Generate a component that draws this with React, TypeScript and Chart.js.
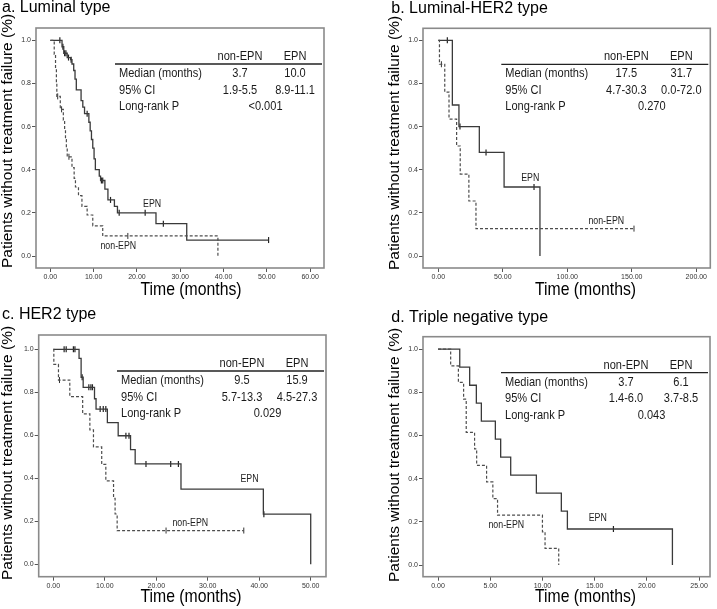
import React, { useEffect, useRef } from 'react';
import { Chart, registerables } from 'chart.js';

Chart.register(...registerables);

const FONT = "'Liberation Sans', Arial, Helvetica, sans-serif";

// ---------- shared ----------
const yTicks = [0, 0.2, 0.4, 0.6, 0.8, 1.0];
const yTickLabels = ['0.0', '0.2', '0.4', '0.6', '0.8', '1.0'];
const groupNames = ['non-EPN', 'EPN'];
const rowNames = ['Median (months)', '95% CI', 'Long-rank P'];
const yAxisTitle = 'Patients without treatment failure (%)';
const xAxisTitle = 'Time (months)';

// ---------- panel a: Luminal ----------
const aNonTimes = [0, 0.9, 1.2, 1.4, 1.5, 2.3, 3.0, 3.3, 3.5, 3.7, 3.9, 5.0, 5.5, 5.8, 6.5, 7.3, 8.5, 9.8, 12.1, 38.7];
const aNonSurv = [1.0, 0.935, 0.87, 0.8, 0.74, 0.68, 0.63, 0.585, 0.54, 0.5, 0.46, 0.41, 0.36, 0.32, 0.28, 0.23, 0.19, 0.14, 0.093, 0.0];
const aNonCensor = [1.7, 2.6, 4.3, 17.9];
const aEpnTimes = [0, 2.7, 3.1, 3.9, 4.7, 5.0, 5.4, 5.7, 6.0, 7.1, 7.5, 7.9, 8.9, 9.2, 9.5, 9.8, 10.1, 10.4, 11.3, 11.6, 12.6, 13.3, 14.8, 15.5, 24.4, 31.5, 50.4];
const aEpnSurv = [1.0, 0.97, 0.94, 0.92, 0.91, 0.89, 0.86, 0.82, 0.77, 0.72, 0.69, 0.66, 0.62, 0.58, 0.54, 0.5, 0.45, 0.4, 0.37, 0.35, 0.31, 0.26, 0.23, 0.2, 0.15, 0.074, 0.074];
const aEpnCensor = [2.2, 2.9, 3.3, 3.6, 4.2, 4.8, 8.5, 11.8, 12.1, 13.9, 15.9, 21.9, 26.1, 50.4];
const aXTicks = [0, 10, 20, 30, 40, 50, 60];
const aXTickLabels = ['0.00', '10.00', '20.00', '30.00', '40.00', '50.00', '60.00'];
const aMedian = ['3.7', '10.0'];
const aCI = ['1.9-5.5', '8.9-11.1'];
const aP = '<0.001';

// ---------- panel b: Luminal-HER2 ----------
const bNonTimes = [0, 0.9, 5.0, 8.3, 14.2, 17.0, 23.7, 29.2, 151.7];
const bNonSurv = [1.0, 0.889, 0.76, 0.635, 0.51, 0.38, 0.255, 0.127, 0.127];
const bNonCensor = [2.4, 151.7];
const bEpnTimes = [0, 10.9, 16.0, 31.8, 51.0, 78.8];
const bEpnSurv = [1.0, 0.7, 0.6, 0.48, 0.32, 0.0];
const bEpnCensor = [7.0, 16.8, 37.0, 74.2];
const bXTicks = [0, 50, 100, 150, 200];
const bXTickLabels = ['0.00', '50.00', '100.00', '150.00', '200.00'];
const bMedian = ['17.5', '31.7'];
const bCI = ['4.7-30.3', '0.0-72.0'];
const bP = '0.270';

// ---------- panel c: HER2 ----------
const cNonTimes = [0, 0.1, 1.0, 3.2, 5.7, 7.1, 7.8, 9.4, 10.2, 11.7, 12.0, 12.4, 37.0];
const cNonSurv = [1.0, 0.93, 0.857, 0.78, 0.7, 0.625, 0.546, 0.465, 0.388, 0.307, 0.234, 0.157, 0.157];
const cNonCensor = [1.2, 21.9, 37.0];
const cEpnTimes = [0, 5.0, 5.4, 5.8, 8.0, 8.3, 10.5, 12.6, 15.0, 15.9, 24.8, 40.8, 50.0];
const cEpnSurv = [1.0, 0.958, 0.87, 0.823, 0.77, 0.722, 0.659, 0.598, 0.533, 0.467, 0.35, 0.233, 0.0];
const cEpnCensor = [2.1, 2.5, 3.9, 4.2, 5.6, 6.9, 7.3, 7.6, 9.1, 9.7, 10.2, 14.1, 14.7, 18.0, 22.8, 24.3, 40.9];
const cXTicks = [0, 10, 20, 30, 40, 50];
const cXTickLabels = ['0.00', '10.00', '20.00', '30.00', '40.00', '50.00'];
const cMedian = ['9.5', '15.9'];
const cCI = ['5.7-13.3', '4.5-27.3'];
const cP = '0.029';

// ---------- panel d: Triple negative ----------
const dNonTimes = [0, 1.21, 1.95, 2.45, 2.7, 3.5, 3.7, 4.65, 5.25, 5.7, 10.0, 10.25, 11.56];
const dNonSurv = [1.0, 0.923, 0.846, 0.769, 0.615, 0.538, 0.462, 0.385, 0.308, 0.231, 0.154, 0.077, 0.0];
const dNonCensor: number[] = [];
const dEpnTimes = [0, 2.08, 3.03, 3.67, 4.15, 5.49, 6.0, 6.96, 9.42, 11.81, 12.39, 22.45];
const dEpnSurv = [1.0, 0.917, 0.833, 0.75, 0.667, 0.583, 0.5, 0.417, 0.333, 0.25, 0.167, 0.0];
const dEpnCensor = [16.8];
const dXTicks = [0, 5, 10, 15, 20, 25];
const dXTickLabels = ['0.00', '5.00', '10.00', '15.00', '20.00', '25.00'];
const dMedian = ['3.7', '6.1'];
const dCI = ['1.4-6.0', '3.7-8.5'];
const dP = '0.043';

type Geom = {
  left: number; top: number; w: number; h: number;
  boxL: number; boxR: number; boxT: number; boxB: number;
  titleX: number; titleY: number;
  yTitleX: number; yTitleY: number;
  xTitleX: number; xTitleY: number;
};

type PanelDef = {
  title: string;
  nonTimes: number[]; nonSurv: number[]; nonCensor: number[];
  epnTimes: number[]; epnSurv: number[]; epnCensor: number[];
  xTicks: number[]; xTickLabels: string[];
  xMin: number; xMax: number; yMin: number; yMax: number;
  median: string[]; ci: string[]; p: string;
  epnLabelAt: [number, number]; nonLabelAt: [number, number];
  g: Geom;
};

const panels: PanelDef[] = [
  {
    title: 'a. Luminal type',
    nonTimes: aNonTimes, nonSurv: aNonSurv, nonCensor: aNonCensor,
    epnTimes: aEpnTimes, epnSurv: aEpnSurv, epnCensor: aEpnCensor,
    xTicks: aXTicks, xTickLabels: aXTickLabels,
    xMin: -3.31, xMax: 63.2, yMin: -0.0556, yMax: 1.057,
    median: aMedian, ci: aCI, p: aP,
    epnLabelAt: [23.5, 0.24], nonLabelAt: [15.7, 0.043],
    g: { left: 0, top: 0, w: 358, h: 302, boxL: 36, boxR: 324, boxT: 28, boxB: 268,
      titleX: 2, titleY: 8, yTitleX: 7.7, yTitleY: 141, xTitleX: 191, xTitleY: 290 },
  },
  {
    title: 'b. Luminal-HER2 type',
    nonTimes: bNonTimes, nonSurv: bNonSurv, nonCensor: bNonCensor,
    epnTimes: bEpnTimes, epnSurv: bEpnSurv, epnCensor: bEpnCensor,
    xTicks: bXTicks, xTickLabels: bXTickLabels,
    xMin: -11.86, xMax: 210.85, yMin: -0.0556, yMax: 1.0556,
    median: bMedian, ci: bCI, p: bP,
    epnLabelAt: [71.3, 0.36], nonLabelAt: [130.2, 0.159],
    g: { left: 386, top: 0, w: 331, h: 302, boxL: 423, boxR: 710.3, boxT: 28.3, boxB: 268,
      titleX: 391.3, titleY: 9, yTitleX: 395, yTitleY: 143, xTitleX: 585.5, xTitleY: 290 },
  },
  {
    title: 'c. HER2 type',
    nonTimes: cNonTimes, nonSurv: cNonSurv, nonCensor: cNonCensor,
    epnTimes: cEpnTimes, epnSurv: cEpnSurv, epnCensor: cEpnCensor,
    xTicks: cXTicks, xTickLabels: cXTickLabels,
    xMin: -2.84, xMax: 52.97, yMin: -0.0577, yMax: 1.0665,
    median: cMedian, ci: cCI, p: cP,
    epnLabelAt: [38.1, 0.395], nonLabelAt: [26.6, 0.193],
    g: { left: 0, top: 300, w: 358, h: 309, boxL: 38.7, boxR: 326, boxT: 335, boxB: 576.7,
      titleX: 2, titleY: 314.5, yTitleX: 8, yTitleY: 453, xTitleX: 191, xTitleY: 596.7 },
  },
  {
    title: 'd. Triple negative type',
    nonTimes: dNonTimes, nonSurv: dNonSurv, nonCensor: dNonCensor,
    epnTimes: dEpnTimes, epnSurv: dEpnSurv, epnCensor: dEpnCensor,
    xTicks: dXTicks, xTickLabels: dXTickLabels,
    xMin: -1.44, xMax: 26.05, yMin: -0.054, yMax: 1.058,
    median: dMedian, ci: dCI, p: dP,
    epnLabelAt: [15.3, 0.216], nonLabelAt: [6.54, 0.185],
    g: { left: 386, top: 300, w: 331, h: 309, boxL: 423, boxR: 710, boxT: 336.7, boxB: 576.7,
      titleX: 391.3, titleY: 318, yTitleX: 395, yTitleY: 455, xTitleX: 585.5, xTitleY: 596.7 },
  },
];

function survAt(times: number[], surv: number[], t: number) {
  let s = surv[0];
  for (let i = 0; i < times.length; i++) if (times[i] <= t) s = surv[i];
  return s;
}

function drawText(
  ctx: CanvasRenderingContext2D, text: string, x: number, y: number,
  size: number, scaleX: number, align: CanvasTextAlign, color: string, rotate = 0,
) {
  ctx.save();
  ctx.translate(x, y);
  if (rotate) ctx.rotate(rotate);
  ctx.scale(scaleX, 1);
  ctx.font = `${size}px ${FONT}`;
  ctx.fillStyle = color;
  ctx.textAlign = align;
  ctx.textBaseline = 'middle';
  ctx.fillText(text, 0, 0);
  ctx.restore();
}

function KMPanel({ def }: { def: PanelDef }) {
  const ref = useRef<HTMLCanvasElement>(null);
  const g = def.g;

  useEffect(() => {
    const canvas = ref.current;
    if (!canvas) return;

    const titlePadTop = Math.max(0, g.titleY - g.top - 8);
    const titlePadBottom = g.boxT - g.top - 16 - titlePadTop;

    const overlay = {
      id: 'kmOverlay',
      afterDraw(chart: any) {
        const ctx: CanvasRenderingContext2D = chart.ctx;
        const { left, right, top, bottom } = chart.chartArea;
        const xs = chart.scales.x;
        const ys = chart.scales.y;
        // frame
        ctx.save();
        ctx.strokeStyle = '#8a8a8a';
        ctx.lineWidth = 1.6;
        ctx.strokeRect(left, top, right - left, bottom - top);
        ctx.restore();

        // table
        const R = right;
        const T = top;
        ctx.save();
        ctx.strokeStyle = '#222';
        ctx.lineWidth = 1.3;
        ctx.beginPath();
        ctx.moveTo(R - 209, T + 36);
        ctx.lineTo(R - 2, T + 36);
        ctx.stroke();
        ctx.restore();
        const col1 = R - 84;
        const col2 = R - 29;
        const tc = '#1a1a1a';
        drawText(ctx, groupNames[0], col1, T + 28.5, 13, 0.85, 'center', tc);
        drawText(ctx, groupNames[1], col2, T + 28.5, 13, 0.85, 'center', tc);
        const rowsY = [T + 45.5, T + 62, T + 78.5];
        rowNames.forEach((r, i) => drawText(ctx, r, R - 205, rowsY[i], 13, 0.85, 'left', tc));
        drawText(ctx, def.median[0], col1, rowsY[0], 13, 0.85, 'center', tc);
        drawText(ctx, def.median[1], col2, rowsY[0], 13, 0.85, 'center', tc);
        drawText(ctx, def.ci[0], col1, rowsY[1], 13, 0.85, 'center', tc);
        drawText(ctx, def.ci[1], col2, rowsY[1], 13, 0.85, 'center', tc);
        drawText(ctx, def.p, (col1 + col2) / 2 - 2, rowsY[2], 13, 0.85, 'center', tc);

        // curve labels
        drawText(ctx, groupNames[1], xs.getPixelForValue(def.epnLabelAt[0]), ys.getPixelForValue(def.epnLabelAt[1]), 10, 0.88, 'center', '#222');
        drawText(ctx, groupNames[0], xs.getPixelForValue(def.nonLabelAt[0]), ys.getPixelForValue(def.nonLabelAt[1]), 10, 0.88, 'center', '#222');

        // axis titles
        drawText(ctx, xAxisTitle, g.xTitleX - g.left, g.xTitleY - g.top, 18.5, 0.853, 'center', '#000');
        drawText(ctx, yAxisTitle, g.yTitleX - g.left, g.yTitleY - g.top, 15.5, 1, 'center', '#000', -Math.PI / 2);
      },
    };

    const chart = new Chart(canvas, {
      type: 'line',
      data: {
        datasets: [
          {
            type: 'line',
            label: 'non-EPN',
            data: def.nonTimes.map((t, i) => ({ x: t, y: def.nonSurv[i] })),
            stepped: true,
            borderColor: '#4d4d4d',
            borderWidth: 1.2,
            borderDash: [3, 2],
            pointRadius: 0,
            fill: false,
          },
          {
            type: 'line',
            label: 'EPN',
            data: def.epnTimes.map((t, i) => ({ x: t, y: def.epnSurv[i] })),
            stepped: true,
            borderColor: '#3a3a3a',
            borderWidth: 1.3,
            pointRadius: 0,
            fill: false,
          },
          {
            type: 'scatter',
            label: 'non-EPN censored',
            data: def.nonCensor.map((t) => ({ x: t, y: survAt(def.nonTimes, def.nonSurv, t) })),
            pointStyle: 'line',
            rotation: 90,
            pointRadius: 3,
            borderColor: '#333',
            pointBorderColor: '#333',
            pointBorderWidth: 1,
            showLine: false,
          },
          {
            type: 'scatter',
            label: 'EPN censored',
            data: def.epnCensor.map((t) => ({ x: t, y: survAt(def.epnTimes, def.epnSurv, t) })),
            pointStyle: 'line',
            rotation: 90,
            pointRadius: 3,
            borderColor: '#222',
            pointBorderColor: '#222',
            pointBorderWidth: 1.2,
            showLine: false,
          },
        ] as any,
      },
      options: {
        responsive: false,
        animation: false,
        events: [],
        layout: {
          padding: {
            left: g.titleX - g.left,
            top: 0,
            right: g.left + g.w - g.boxR,
            bottom: 0,
          },
        },
        plugins: {
          legend: { display: false },
          tooltip: { enabled: false },
          title: {
            display: true,
            text: def.title,
            align: 'start',
            color: '#000',
            font: { family: FONT, size: 16, weight: 'normal', lineHeight: 1 },
            padding: { top: titlePadTop, bottom: titlePadBottom },
          },
        },
        scales: {
          x: {
            type: 'linear',
            min: def.xMin,
            max: def.xMax,
            afterBuildTicks: (s: any) => { s.ticks = def.xTicks.map((v) => ({ value: v })); },
            afterFit: (s: any) => { s.height = g.top + g.h - g.boxB; },
            grid: { display: true, drawOnChartArea: false, drawTicks: true, tickLength: 4, color: '#555' },
            border: { display: false },
            ticks: {
              font: { family: FONT, size: 7 },
              color: '#333',
              padding: 1,
              autoSkip: false,
              maxRotation: 0,
              minRotation: 0,
              callback: (_v: any, i: number) => def.xTickLabels[i],
            },
          },
          y: {
            type: 'linear',
            min: def.yMin,
            max: def.yMax,
            afterBuildTicks: (s: any) => { s.ticks = yTicks.map((v) => ({ value: v })); },
            afterFit: (s: any) => { s.width = g.boxL - g.titleX; },
            grid: { display: true, drawOnChartArea: false, drawTicks: true, tickLength: 4, color: '#555' },
            border: { display: false },
            ticks: {
              font: { family: FONT, size: 7 },
              color: '#333',
              padding: 1,
              autoSkip: false,
              callback: (_v: any, i: number) => yTickLabels[i],
            },
          },
        },
      } as any,
      plugins: [overlay],
    });
    return () => chart.destroy();
  }, []);

  return (
    <canvas
      ref={ref}
      width={g.w}
      height={g.h}
      style={{ position: 'absolute', left: g.left, top: g.top, width: g.w, height: g.h }}
    />
  );
}

export default function App() {
  return (
    <div style={{ position: 'absolute', left: 0, top: 0, width: 717, height: 609, background: '#fff', overflow: 'hidden' }}>
      {panels.map((p) => (
        <KMPanel key={p.title} def={p} />
      ))}
    </div>
  );
}
